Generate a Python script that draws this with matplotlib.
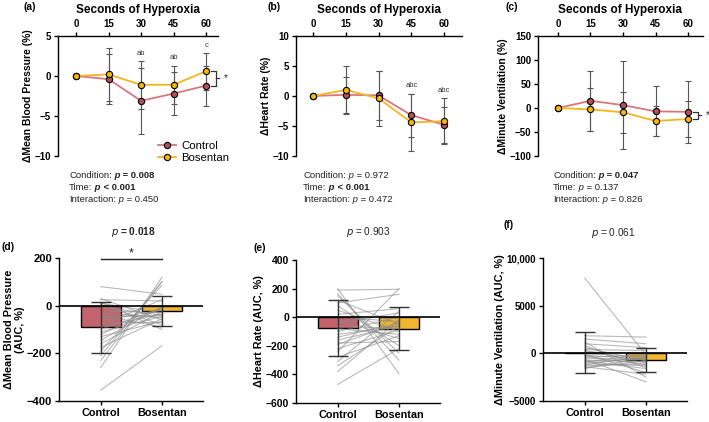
import matplotlib.pyplot as plt
import numpy as np

plt.rcParams['font.family'] = ['Liberation Sans', 'DejaVu Sans']
plt.rcParams['axes.linewidth'] = 1.0
plt.rcParams['xtick.major.width'] = 1.0
plt.rcParams['ytick.major.width'] = 1.0
plt.rcParams['xtick.major.size'] = 3
plt.rcParams['ytick.major.size'] = 3

# ---- time course data (seconds of hyperoxia) ----
seconds = [0, 15, 30, 45, 60]

map_ctrl = [0, -0.4, -3.1, -2.2, -1.2]
map_ctrl_sd = [0, 3.1, 4.1, 2.7, 2.5]
map_bos = [0, 0.2, -1.1, -1.1, 0.6]
map_bos_sd = [0, 3.3, 3.0, 2.4, 2.3]
map_letters = ['', '', 'ab', 'ab', 'c']

hr_ctrl = [0, 0.2, 0.1, -3.2, -4.8]
hr_ctrl_sd = [0, 3.0, 4.1, 3.6, 3.0]
hr_bos = [0, 1.0, -0.4, -4.4, -4.2]
hr_bos_sd = [0, 4.0, 4.6, 4.7, 3.8]
hr_letters = ['', '', '', 'abc', 'abc']

ve_ctrl = [0, 15, 6, -7, -8]
ve_ctrl_sd = [0, 62, 91, 52, 64]
ve_bos = [0, -3, -9, -27, -23]
ve_bos_sd = [0, 44, 43, 32, 37]
ve_letters = ['', '', '', '', '']

# (label, p-part, bold)
stats_a = [('Condition:', ' = 0.008', True), ('Time:', ' < 0.001', True), ('Interaction:', ' = 0.450', False)]
stats_b = [('Condition:', ' = 0.972', False), ('Time:', ' < 0.001', True), ('Interaction:', ' = 0.472', False)]
stats_c = [('Condition:', ' = 0.047', True), ('Time:', ' = 0.137', False), ('Interaction:', ' = 0.826', False)]

# ---- AUC data ----
groups = ['Control', 'Bosentan']

map_auc_mean = [-90, -22]
map_auc_sd = [107, 63]
map_auc_ctrl = [80, 30, 25, 15, 10, 5, -5, -20, -30, -40, -50, -60, -70, -80, -90,
                -100, -110, -120, -130, -145, -160, -175, -190, -210, -230, -260, -355]
map_auc_bos = [48, -60, 20, -100, -30, -80, -40, -30, -50, -90, -40, -20, -70, 25, -35,
               -10, -45, -10, -65, -5, -25, -55, 85, 100, 101, 119, -168]

hr_auc_mean = [-75, -82]
hr_auc_sd = [195, 150]
hr_auc_ctrl = [200, 190, 165, 150, 120, 100, 80, 50, 20, 0, -20, -40, -60, -80, -100,
               -120, -140, -160, -180, -190, -220, -240, -280, -310, -340, -380, -470]
hr_auc_bos = [-395, 195, -300, -250, -50, 160, -200, -100, 60, -30, -150, 30, -80, -120, 0,
              -60, -40, -60, -170, -40, -90, 200, -130, 40, -60, -20, -220]

ve_auc_mean = [70, -660]
ve_auc_sd = [2150, 1270]
ve_auc_ctrl = [7900, 1850, 1500, 1200, 1000, 800, 600, 400, 300, 150, 0, -100, -200, -300,
               -400, -500, -600, -700, -800, -900, -1000, -1100, -1200, -1300, -1400, -1500, -1600]
ve_auc_bos = [-150, 1700, 1000, -2500, 600, -1500, -800, 300, -1000, 0, -400, -2000, -600, -1200,
              -200, -700, -3000, -900, -1600, -100, -500, -1300, -300, -1100, -2200, -800, -400]

red_line = '#d9767d'
red_face = '#b0505a'
red_bar = '#c4636b'
yel_line = '#f5b51f'
yel_face = '#f5b800'
yel_bar = '#f2b630'

W, H = 709, 422
fig = plt.figure(figsize=(W / 100, H / 100), dpi=100)


def px_axes(left, top, right, bottom):
    return fig.add_axes([left / W, 1 - bottom / H, (right - left) / W, (bottom - top) / H])


def rich_line(ax, x, y, label, value, bold, size=6.8):
    # x, y in figure pixels (top-left origin)
    t = ax.annotate(label, xy=(x / W, 1 - y / H), xycoords='figure fraction',
                    va='bottom', ha='left', fontsize=size, color='#222222', annotation_clip=False)
    w = 'bold' if bold else 'normal'
    t = ax.annotate(' p', xy=(1, 0), xycoords=t, va='bottom', ha='left', fontsize=size,
                    fontweight=w, fontstyle='italic', color='#222222', annotation_clip=False)
    ax.annotate(value, xy=(1, 0), xycoords=t, va='bottom', ha='left', fontsize=size,
                fontweight=w, color='#222222', annotation_clip=False)


def bracket(ax, ytop, ybot):
    x0, x1 = 62.5, 64.5
    ym = (ytop + ybot) / 2
    ax.plot([x0, x1, x1, x0], [ytop, ytop, ybot, ybot], color='#333333', lw=0.9, clip_on=False)
    ax.plot([x1, x1 + 1.6], [ym, ym], color='#333333', lw=0.9, clip_on=False)
    ax.text(x1 + 3.5, ym, '*', fontsize=7, ha='left', va='center', color='#222222', clip_on=False)


def time_panel(ax, ctrl, ctrl_sd, bos, bos_sd, letters, ylim, yticks, xlim, ylabel, legend=False):
    ax.errorbar(seconds, ctrl, yerr=ctrl_sd, fmt='none', ecolor='#555555', elinewidth=0.8,
                capsize=2, capthick=0.8, zorder=2)
    ax.errorbar(seconds, bos, yerr=bos_sd, fmt='none', ecolor='#555555', elinewidth=0.8,
                capsize=2, capthick=0.8, zorder=2)
    ax.plot(seconds, ctrl, color=red_line, lw=1.3, marker='o', ms=4.5, mfc=red_face,
            mec='black', mew=0.8, label='Control', zorder=3)
    ax.plot(seconds, bos, color=yel_line, lw=1.3, marker='o', ms=4.5, mfc=yel_face,
            mec='black', mew=0.8, label='Bosentan', zorder=3)
    for s, c, cs, b, bs, lab in zip(seconds, ctrl, ctrl_sd, bos, bos_sd, letters):
        if lab:
            ax.annotate(lab, xy=(s, max(c + cs, b + bs)), xytext=(0, 3), textcoords='offset points',
                        ha='center', va='bottom', fontsize=5.5, color='#333333')
    ax.set_xlim(xlim)
    ax.set_ylim(ylim)
    ax.set_yticks(yticks)
    ax.set_xticks(seconds)
    ax.xaxis.tick_top()
    ax.xaxis.set_label_position('top')
    ax.set_xlabel('Seconds of Hyperoxia', fontsize=8.5, fontweight='bold', labelpad=4)
    ax.set_ylabel(ylabel, fontsize=7.5, fontweight='bold', labelpad=1)
    ax.spines['bottom'].set_visible(False)
    ax.spines['right'].set_visible(False)
    ax.tick_params(labelsize=7, pad=2)
    for t in ax.get_xticklabels() + ax.get_yticklabels():
        t.set_fontweight('bold')
    if legend:
        ax.legend(loc='lower right', bbox_to_anchor=(1.1, -0.1), frameon=False, fontsize=8.2,
                  handlelength=1.6, handletextpad=0.5, labelspacing=0.2, borderaxespad=0)


def auc_panel(ax, ctrl, bos, means, sds, ylim, yticks, yticklabels, ylabel, tsize):
    ax.bar([0, 1], means, width=0.65, color=[red_bar, yel_bar], edgecolor='black', lw=1, zorder=2)
    for c, b in zip(ctrl, bos):
        ax.plot([0, 1], [c, b], color='#8a8a8a', alpha=0.6, lw=0.8, zorder=3)
    ax.errorbar([0, 1], means, yerr=sds, fmt='none', ecolor='#333333', elinewidth=1,
                capsize=7, capthick=1, zorder=4)
    ax.axhline(0, color='black', lw=1.2, zorder=5)
    ax.set_xlim(-0.68, 1.67)
    ax.set_ylim(ylim)
    ax.set_yticks(yticks)
    ax.set_yticklabels(yticklabels)
    ax.set_xticks([0, 1])
    ax.set_xticklabels(groups)
    ax.set_ylabel(ylabel, fontsize=7.8, fontweight='bold', labelpad=1)
    ax.spines['top'].set_visible(False)
    ax.spines['right'].set_visible(False)
    ax.tick_params(labelsize=tsize, pad=2)
    ax.tick_params(axis='x', labelsize=7.8)
    for t in ax.get_xticklabels() + ax.get_yticklabels():
        t.set_fontweight('bold')


# ---- top row ----
ax_a = px_axes(58, 36, 218, 156)
time_panel(ax_a, map_ctrl, map_ctrl_sd, map_bos, map_bos_sd, map_letters, (-10, 5),
           [-10, -5, 0, 5], (-8.3, 65.5), '\u0394Mean Blood Pressure (%)', legend=True)
bracket(ax_a, map_bos[-1], map_ctrl[-1])

ax_b = px_axes(296, 36, 462, 156)
time_panel(ax_b, hr_ctrl, hr_ctrl_sd, hr_bos, hr_bos_sd, hr_letters, (-10, 10),
           [-10, -5, 0, 5, 10], (-7.8, 68.2), '\u0394Heart Rate (%)')

ax_c = px_axes(538, 36, 703, 156)
time_panel(ax_c, ve_ctrl, ve_ctrl_sd, ve_bos, ve_bos_sd, ve_letters, (-100, 150),
           [-100, -50, 0, 50, 100, 150], (-9.2, 66.9), '\u0394Minute Ventilation (%)')
bracket(ax_c, ve_ctrl[-1], ve_bos[-1])

for ax, x0, stats in [(ax_a, 69, stats_a), (ax_b, 303, stats_b), (ax_c, 553, stats_c)]:
    for i, (lab, val, bold) in enumerate(stats):
        rich_line(ax, x0, 180 + 12 * i, lab, val, bold)

# ---- bottom row ----
ax_d = px_axes(59, 258, 203, 401)
auc_panel(ax_d, map_auc_ctrl, map_auc_bos, map_auc_mean, map_auc_sd, (-400, 200),
          [-400, -200, 0, 200], ['\u2212400', '\u2212200', '0', '200'],
          '\u0394Mean Blood Pressure\n(AUC, %)', 8)
ax_d.plot([0, 1], [195, 195], color='#222222', lw=1, clip_on=False)
ax_d.text(0.5, 218, '*', ha='center', va='center', fontsize=9, color='#222222')

ax_e = px_axes(296, 260, 440, 403)
auc_panel(ax_e, hr_auc_ctrl, hr_auc_bos, hr_auc_mean, hr_auc_sd, (-600, 400),
          [-600, -400, -200, 0, 200, 400], ['\u2212600', '\u2212400', '\u2212200', '0', '200', '400'],
          '\u0394Heart Rate (AUC, %)', 7.5)

ax_f = px_axes(543, 258, 687, 401)
auc_panel(ax_f, ve_auc_ctrl, ve_auc_bos, ve_auc_mean, ve_auc_sd, (-5000, 10000),
          [-5000, 0, 5000, 10000], ['\u22125000', '0', '5000', '10,000'],
          '\u0394Minute Ventilation (AUC, %)', 7)

# p-values above AUC panels
fig.text(133 / W, 1 - 232 / H, '$\\it{p}$ = 0.018', ha='center', va='center', fontsize=7.2,
         fontweight='bold', color='#222222')
fig.text(368 / W, 1 - 232 / H, '$\\it{p}$ = 0.903', ha='center', va='center', fontsize=7.2,
         color='#222222')
fig.text(613 / W, 1 - 233 / H, '$\\it{p}$ = 0.061', ha='center', va='center', fontsize=7.2,
         color='#222222')

# panel letters
for lab, x, y in [('(a)', 23, 7), ('(b)', 268, 7), ('(c)', 505, 7),
                  ('(d)', 2, 247), ('(e)', 253, 248), ('(f)', 503, 225)]:
    fig.text(x / W, 1 - y / H, lab, ha='left', va='center', fontsize=7.5, fontweight='bold')

fig.savefig('out.png', dpi=100)
